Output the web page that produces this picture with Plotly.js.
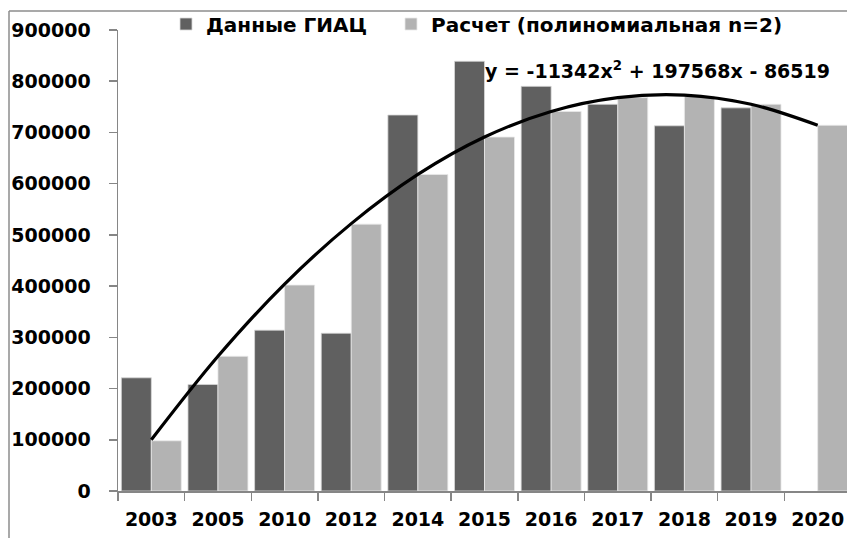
<!DOCTYPE html>
<html>
<head>
<meta charset="utf-8">
<script src="https://cdn.plot.ly/plotly-3.0.1.min.js"></script>
<style>
html, body { margin: 0; padding: 0; overflow: hidden; background: #fff; }
#chart { width: 860px; height: 538px; }
</style>
</head>
<body>
<div id="chart"></div>
<script>
const years = ["2003", "2005", "2010", "2012", "2014", "2015", "2016", "2017", "2018", "2019", "2020"];
const giacValues = [221000, 208000, 314000, 308000, 734000, 839000, 790000, 755000, 713000, 748000, null];
const calcValues = [98000, 263000, 402000, 521000, 618000, 691000, 741000, 768000, 771000, 755000, 714000];
const trendValues = [100000, 263000, 404000, 522000, 618000, 691000, 741000, 768000, 773000, 755000, 714000];
const yTicks = [0, 100000, 200000, 300000, 400000, 500000, 600000, 700000, 800000, 900000];
const legendNames = ["Данные ГИАЦ", "Расчет (полиномиальная n=2)"];
const equationText = "y = -11342x<sup>2</sup> + 197568x - 86519";

const FONT = "DejaVu Sans, sans-serif";
const L = 118, R = 851, T = 30, B = 491;
const pw = R - L, ph = B - T;
const px = x => (x - L) / pw;
const py = y => (B - y) / ph;

const traces = [
  {
    type: "bar", x: years, y: giacValues, name: legendNames[0],
    marker: { color: "#606060", line: { color: "#d8d8d8", width: 0.8 } },
    legend: "legend", hoverinfo: "skip"
  },
  {
    type: "bar", x: years, y: calcValues, name: legendNames[1],
    marker: { color: "#b3b3b3", line: { color: "#e8e8e8", width: 0.8 } },
    legend: "legend2", hoverinfo: "skip"
  },
  {
    type: "scatter", mode: "lines", x: years, y: trendValues,
    line: { color: "#000", width: 3.2, shape: "spline", smoothing: 1 },
    showlegend: false, hoverinfo: "skip"
  }
];

const layout = {
  width: 860, height: 538,
  margin: { l: L, r: 860 - R, t: T, b: 538 - B, pad: 0, autoexpand: false },
  paper_bgcolor: "#fff", plot_bgcolor: "#fff",
  font: { family: FONT, size: 19, color: "#000", weight: "bold" },
  barmode: "group", bargap: 0.1, bargroupgap: 0,
  showlegend: true,
  xaxis: {
    type: "category", tickson: "boundaries", ticks: "outside", ticklen: 8,
    tickcolor: "#868686", tickwidth: 1.5,
    showline: true, linecolor: "#868686", linewidth: 1.5,
    showgrid: false, zeroline: false, ticklabelstandoff: 11,
    tickfont: { family: FONT, size: 19, color: "#000", weight: "bold" },
    fixedrange: true, automargin: false
  },
  yaxis: {
    range: [0, 900000], tickvals: yTicks, ticktext: yTicks.map(String),
    ticks: "outside", ticklen: 8, tickcolor: "#868686", tickwidth: 1.5,
    showline: true, linecolor: "#868686", linewidth: 1.5,
    showgrid: false, zeroline: false, ticklabelstandoff: 14,
    tickfont: { family: FONT, size: 19, color: "#000", weight: "bold" },
    fixedrange: true, automargin: false
  },
  legend: {
    orientation: "h", x: px(166), xanchor: "left", y: py(24), yanchor: "middle",
    bgcolor: "rgba(0,0,0,0)", font: { family: FONT, size: 20, color: "#000", weight: "bold" },
    itemwidth: 30, tracegroupgap: 0
  },
  legend2: {
    orientation: "h", x: px(391), xanchor: "left", y: py(24), yanchor: "middle",
    bgcolor: "rgba(0,0,0,0)", font: { family: FONT, size: 20, color: "#000", weight: "bold" },
    itemwidth: 30
  },
  annotations: [{
    xref: "paper", yref: "paper", x: px(832), y: py(70), xanchor: "right", yanchor: "middle",
    text: equationText, showarrow: false,
    font: { family: FONT, size: 19, color: "#000", weight: "bold" }
  }],
  shapes: [
    { type: "line", xref: "paper", yref: "paper", x0: px(9), x1: px(9), y0: py(11), y1: py(545),
      line: { color: "#8c8c8c", width: 1.5 } },
    { type: "line", xref: "paper", yref: "paper", x0: px(9), x1: px(870), y0: py(11), y1: py(11),
      line: { color: "#8c8c8c", width: 1.5 } }
  ]
};

Plotly.newPlot("chart", traces, layout, { displayModeBar: false, staticPlot: true });
</script>
</body>
</html>
